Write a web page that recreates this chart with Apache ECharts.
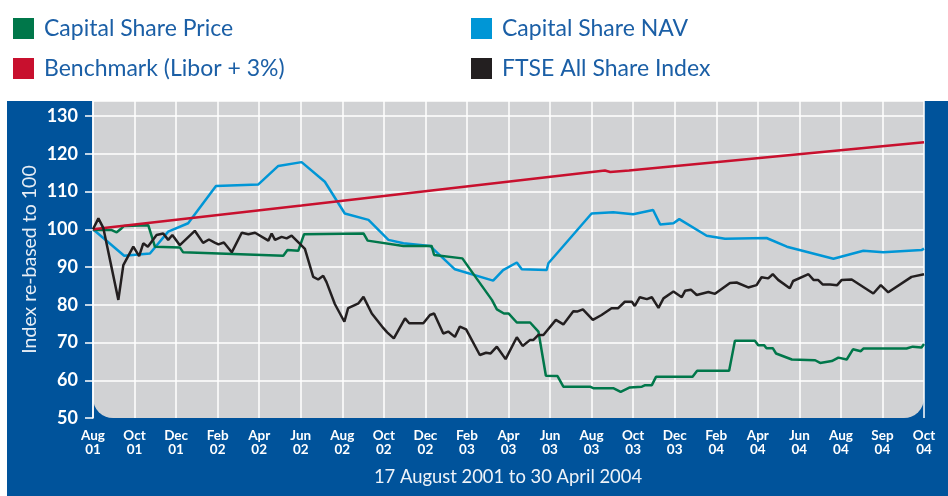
<!DOCTYPE html>
<html>
<head>
<meta charset="utf-8">
<title>Capital Share performance</title>
<script src="https://cdn.jsdelivr.net/npm/echarts/dist/echarts.min.js"></script>
<style>
    html, body { margin: 0; padding: 0; background: #fff; }
    #chart { width: 948px; height: 496px; }
</style>
</head>
<body>
<div id="chart"></div>
<script>
// x positions are in label steps (0 = Aug 01 ... 20 = Oct 04)
const xLabels = ['Aug\n01', 'Oct\n01', 'Dec\n01', 'Feb\n02', 'Apr\n02', 'Jun\n02', 'Aug\n02', 'Oct\n02', 'Dec\n02', 'Feb\n03',
    'Apr\n03', 'Jun\n03', 'Aug\n03', 'Oct\n03', 'Dec\n03', 'Feb\n04', 'Apr\n04', 'Jun\n04', 'Aug\n04', 'Sep\n04', 'Oct\n04'];

const sharePrice = [[0, 99.8], [0.45, 99.8], [0.57, 99.2], [0.69, 100.3], [0.75, 100.9], [1.33, 101.1], [1.49, 95.4], [2.09, 95.2],
    [2.17, 93.9], [4.58, 93.0], [4.68, 94.5], [4.94, 94.3], [5.08, 98.7], [6.51, 98.9], [6.61, 97.0], [7.47, 95.6], [8.15, 95.6],
    [8.21, 93.2], [8.89, 92.3], [9.23, 87.0], [9.6, 81.3], [9.72, 78.8], [9.89, 77.7], [10.0, 77.7], [10.2, 75.3], [10.52, 75.3],
    [10.72, 72.9], [10.9, 61.2], [11.18, 61.1], [11.32, 58.3], [11.96, 58.3], [12.04, 57.9], [12.52, 57.9], [12.7, 56.9],
    [12.92, 58.1], [13.21, 58.3], [13.29, 58.7], [13.45, 58.7], [13.55, 60.9], [14.43, 60.9], [14.54, 62.5], [15.31, 62.5],
    [15.45, 70.5], [15.93, 70.5], [16.01, 69.3], [16.15, 69.3], [16.21, 68.5], [16.36, 68.5], [16.44, 67.1], [16.82, 65.5],
    [17.38, 65.3], [17.5, 64.6], [17.78, 65.1], [17.94, 66.0], [18.14, 65.5], [18.29, 68.2], [18.48, 67.7], [18.54, 68.4],
    [19.58, 68.4], [19.73, 68.9], [19.94, 68.7], [20, 69.6]];

const shareNav = [[0, 100], [0.75, 93.0], [1.37, 93.6], [1.81, 99.4], [2.29, 101.6], [2.96, 111.5], [3.98, 111.9], [4.46, 116.8],
    [5.02, 117.8], [5.58, 112.6], [6.06, 104.2], [6.63, 102.5], [7.11, 97.2], [7.47, 96.3], [8.11, 95.6], [8.71, 89.4],
    [9.63, 86.4], [9.87, 89.2], [10.2, 91.2], [10.32, 89.4], [10.92, 89.2], [10.96, 91.0], [12.0, 104.2], [12.52, 104.5],
    [13.0, 104.0], [13.48, 105.1], [13.65, 101.3], [13.97, 101.6], [14.11, 102.7], [14.77, 98.3], [15.21, 97.5], [16.21, 97.7],
    [16.7, 95.4], [17.82, 92.2], [18.54, 94.3], [19.02, 93.9], [19.94, 94.5], [20, 94.9]];

const benchmark = [[0, 100], [5.02, 106.3], [12.32, 115.6], [12.45, 115.2], [12.9, 115.6], [20, 123.1]];

const ftse = [[0, 100], [0.13, 102.9], [0.25, 100.3], [0.61, 81.3], [0.73, 90.5], [0.97, 95.4], [1.11, 92.9], [1.21, 96.3],
    [1.32, 95.4], [1.53, 98.5], [1.69, 98.9], [1.81, 97.2], [1.91, 98.5], [2.09, 95.8], [2.45, 99.6], [2.65, 96.4], [2.79, 97.3],
    [2.94, 96.4], [3.02, 96.0], [3.15, 96.5], [3.34, 93.9], [3.58, 99.1], [3.74, 98.7], [3.9, 99.1], [4.22, 97.0], [4.3, 98.9],
    [4.38, 97.2], [4.54, 98.0], [4.66, 97.6], [4.78, 98.3], [5.1, 94.8], [5.3, 87.4], [5.42, 86.7], [5.54, 87.7], [5.62, 86.0],
    [5.82, 80.2], [6.05, 75.5], [6.14, 79.1], [6.39, 80.4], [6.51, 82.1], [6.71, 77.7], [6.99, 73.8], [7.08, 72.7], [7.24, 71.1],
    [7.51, 76.4], [7.61, 75.1], [7.95, 75.1], [8.11, 77.3], [8.21, 77.7], [8.43, 72.4], [8.55, 72.9], [8.71, 71.5], [8.83, 74.2],
    [8.98, 73.5], [9.31, 66.7], [9.46, 67.3], [9.57, 67.1], [9.72, 68.9], [9.93, 65.6], [10.2, 71.4], [10.34, 69.1], [10.52, 70.7],
    [10.6, 70.7], [10.72, 72.0], [10.84, 72.0], [11.14, 76.0], [11.32, 74.8], [11.56, 78.3], [11.65, 78.2], [11.79, 78.8],
    [12.03, 76.0], [12.24, 77.3], [12.48, 79.1], [12.64, 79.1], [12.8, 80.8], [12.97, 80.8], [13.04, 79.7], [13.16, 82.0],
    [13.33, 81.5], [13.45, 82.0], [13.61, 79.2], [13.73, 81.7], [13.97, 83.5], [14.17, 82.0], [14.25, 83.7], [14.39, 84.0],
    [14.53, 82.6], [14.81, 83.4], [14.97, 82.9], [15.33, 85.8], [15.49, 85.9], [15.77, 84.6], [15.97, 85.2], [16.09, 87.3],
    [16.25, 87.0], [16.36, 88.1], [16.49, 86.6], [16.77, 84.4], [16.85, 86.3], [17.22, 88.1], [17.34, 86.6], [17.45, 86.6],
    [17.56, 85.4], [17.74, 85.4], [17.91, 85.2], [18.02, 86.6], [18.26, 86.7], [18.78, 83.0], [18.96, 85.2], [19.14, 83.3],
    [19.7, 87.4], [20, 88.1]];

const PANEL_BLUE = '#00539b';
const TEXT_BLUE = '#1b5fa6';
const FONT = 'Lato, "Noto Sans", sans-serif';

let chart = echarts.init(document.getElementById('chart'), null, { renderer: 'canvas' });

function line(name, data, color) {
    return {
        name: name,
        type: 'line',
        data: data,
        symbol: 'none',
        lineStyle: { color: color, width: 2.5 },
        itemStyle: { color: color },
        z: 3,
    };
}

// legend columns sit at fixed spots above the blue panel
function legend(left, names) {
    return {
        left: left,
        top: 12,
        orient: 'vertical',
        itemWidth: 21,
        itemHeight: 21,
        itemGap: 17,
        icon: 'rect',
        selectedMode: false,
        data: names,
        textStyle: { color: TEXT_BLUE, fontSize: 23, fontFamily: FONT, padding: [0, 0, 0, 5] },
    };
}

chart.setOption({
    backgroundColor: '#fff',
    animation: false,
    legend: [
        legend(8, ['Capital Share Price', 'Benchmark (Libor + 3%)']),
        legend(466, ['Capital Share NAV', 'FTSE All Share Index']),
    ],
    grid: { left: 93, right: 24, top: 101, bottom: 78 },
    graphic: [
        // blue panel behind the chart
        { type: 'rect', z: -2, shape: { x: 7, y: 101, width: 941, height: 395 }, style: { fill: PANEL_BLUE } },
        // grey plot area, rounded at the bottom
        { type: 'rect', z: -1, shape: { x: 93, y: 101, width: 831, height: 317, r: [0, 0, 20, 20] }, style: { fill: '#d1d2d4' } },
        {
            type: 'text', z: 5, x: 508, y: 477,
            style: {
                text: '17 August 2001 to 30 April 2004', fill: '#eef3f8', fontSize: 18.4, fontFamily: FONT,
                textAlign: 'center', textVerticalAlign: 'middle',
            },
        },
    ],
    xAxis: {
        type: 'value',
        min: 0,
        max: 20,
        interval: 1,
        axisLine: { show: false },
        axisTick: { show: false },
        splitLine: { show: true, lineStyle: { color: '#fff', width: 1.5 } },
        axisLabel: {
            color: '#fff', fontWeight: 'bold', fontSize: 13.5, lineHeight: 14, fontFamily: FONT, margin: 11,
            formatter: (v) => xLabels[v] || '',
        },
    },
    yAxis: {
        type: 'value',
        min: 50,
        max: 134,
        interval: 10,
        name: 'Index re-based to 100',
        nameLocation: 'middle',
        nameGap: 53,
        nameMoveOverlap: false,
        nameTextStyle: { color: '#e6edf5', fontSize: 19.5, fontFamily: FONT },
        axisLine: { show: true, lineStyle: { color: '#fff', width: 1.5 } },
        axisTick: { show: true, length: 8, lineStyle: { color: '#fff', width: 1.5 } },
        splitLine: { show: true, showMinLine: false, lineStyle: { color: '#fff', width: 1.5 } },
        axisLabel: { color: '#fff', fontWeight: 'bold', fontSize: 18, fontFamily: FONT, margin: 15 },
    },
    series: [
        line('Capital Share NAV', shareNav, '#0096d6'),
        line('Capital Share Price', sharePrice, '#00774a'),
        line('Benchmark (Libor + 3%)', benchmark, '#c8102e'),
        line('FTSE All Share Index', ftse, '#231f20'),
    ],
});
</script>
</body>
</html>
